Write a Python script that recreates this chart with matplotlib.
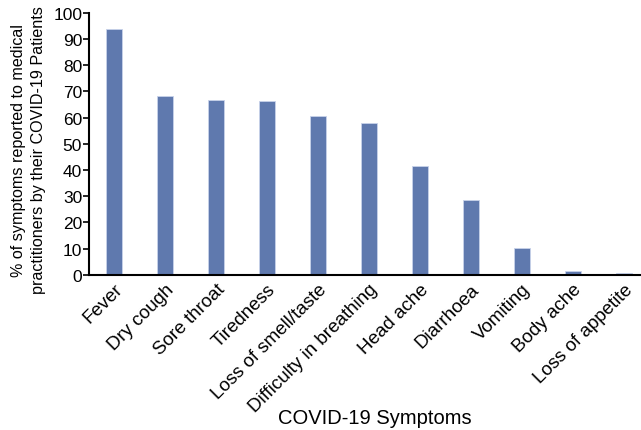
import matplotlib
matplotlib.use("Agg")
import matplotlib.pyplot as plt

categories = ["Fever", "Dry cough", "Sore throat", "Tiredness", "Loss of smell/taste",
              "Difficulty in breathing", "Head ache", "Diarrhoea", "Vomiting",
              "Body ache", "Loss of appetite"]
values = [94.0, 68.1, 66.7, 66.2, 60.7, 57.8, 41.7, 28.4, 10.3, 1.4, 0.6]

plt.rcParams['font.family'] = ['Liberation Sans', 'DejaVu Sans']

fig = plt.figure(figsize=(6.41, 4.31), dpi=100)
ax = fig.add_axes([0.139, 0.36, 0.859, 0.608])
x = list(range(len(categories)))
ax.bar(x, values, width=0.31, color="#5f79ae", edgecolor="#c8d2ea", linewidth=0.6)
ax.set_xlim(-0.49, 10.31)
ax.set_ylim(0, 100)
ax.set_yticks(range(0, 101, 10))
ax.set_xticks(x)
ax.set_xticklabels(categories, rotation=45, ha="right", rotation_mode="anchor", fontsize=13.5)
ax.tick_params(axis='y', labelsize=12.5, length=4, width=1.2, pad=1)
ax.tick_params(axis='x', length=0, pad=4)
for s in ["top", "right"]:
    ax.spines[s].set_visible(False)
for s in ["left", "bottom"]:
    ax.spines[s].set_linewidth(1.5)
ax.set_ylabel("% of symptoms reported to medical\npractitioners by their COVID-19 Patients",
              fontsize=11.6, linespacing=1.45)
ax.yaxis.set_label_coords(-0.078, 0.48)
ax.set_xlabel("COVID-19 Symptoms", fontsize=14.5)
ax.xaxis.set_label_coords(0.519, -0.51)
fig.savefig("out.png", dpi=100)
